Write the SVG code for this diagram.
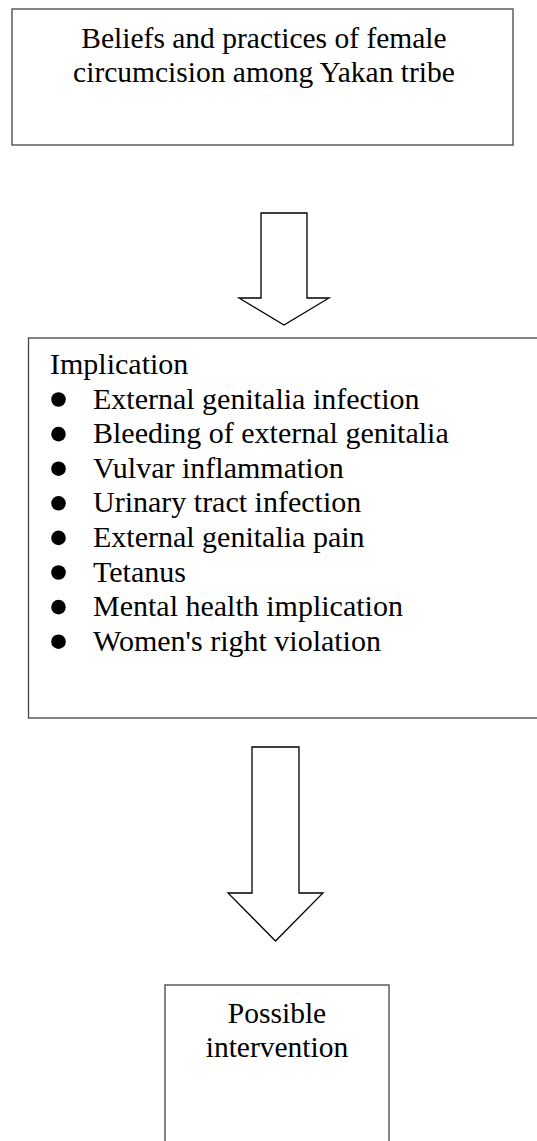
<svg xmlns="http://www.w3.org/2000/svg" width="537" height="1141" viewBox="0 0 537 1141">
<style>
.box{fill:#fff;stroke:#444;stroke-width:1.3}
.arr{fill:#fff;stroke:#000;stroke-width:1.3;stroke-linejoin:miter}
text{font-family:"Liberation Serif","Times New Roman",serif;font-size:29.5px;fill:#000}
.li{font-size:30px}
.c{text-anchor:middle}
.dot{fill:#000}
</style>
<rect width="537" height="1141" fill="#fff"/>
<g id="node-beliefs">
<rect class="box" x="12" y="9" width="501" height="136"/>
<text class="c" x="264" y="47.5">Beliefs and practices of female</text>
<text class="c" x="264" y="81.5">circumcision among Yakan tribe</text>
</g>
<g id="node-implication">
<rect class="box" x="28.5" y="338" width="520" height="380"/>
<text class="li" x="50" y="374">Implication</text>
<circle class="dot" cx="58.5" cy="399.5" r="7.3"/><text class="li" x="93" y="408.6">External genitalia infection</text>
<circle class="dot" cx="58.5" cy="434.1" r="7.3"/><text class="li" x="93" y="443.2">Bleeding of external genitalia</text>
<circle class="dot" cx="58.5" cy="468.7" r="7.3"/><text class="li" x="93" y="477.8">Vulvar inflammation</text>
<circle class="dot" cx="58.5" cy="503.3" r="7.3"/><text class="li" x="93" y="512.4">Urinary tract infection</text>
<circle class="dot" cx="58.5" cy="537.9" r="7.3"/><text class="li" x="93" y="547">External genitalia pain</text>
<circle class="dot" cx="58.5" cy="572.5" r="7.3"/><text class="li" x="93" y="581.6">Tetanus</text>
<circle class="dot" cx="58.5" cy="607.1" r="7.3"/><text class="li" x="93" y="616.2">Mental health implication</text>
<circle class="dot" cx="58.5" cy="641.7" r="7.3"/><text class="li" x="93" y="650.8">Women's right violation</text>
</g>
<g id="node-intervention">
<rect class="box" x="165" y="985" width="224" height="170"/>
<text class="c" x="277" y="1022.5">Possible</text>
<text class="c" x="277" y="1057">intervention</text>
</g>
<g id="connectors">
<path class="arr" d="M261,213 L307,213 L307,298 L329,298 L284,325 L239,298 L261,298 Z"/>
<path class="arr" d="M252,747 L299,747 L299,893 L323,893 L275.5,941 L228,893 L252,893 Z"/>
</g>
</svg>
